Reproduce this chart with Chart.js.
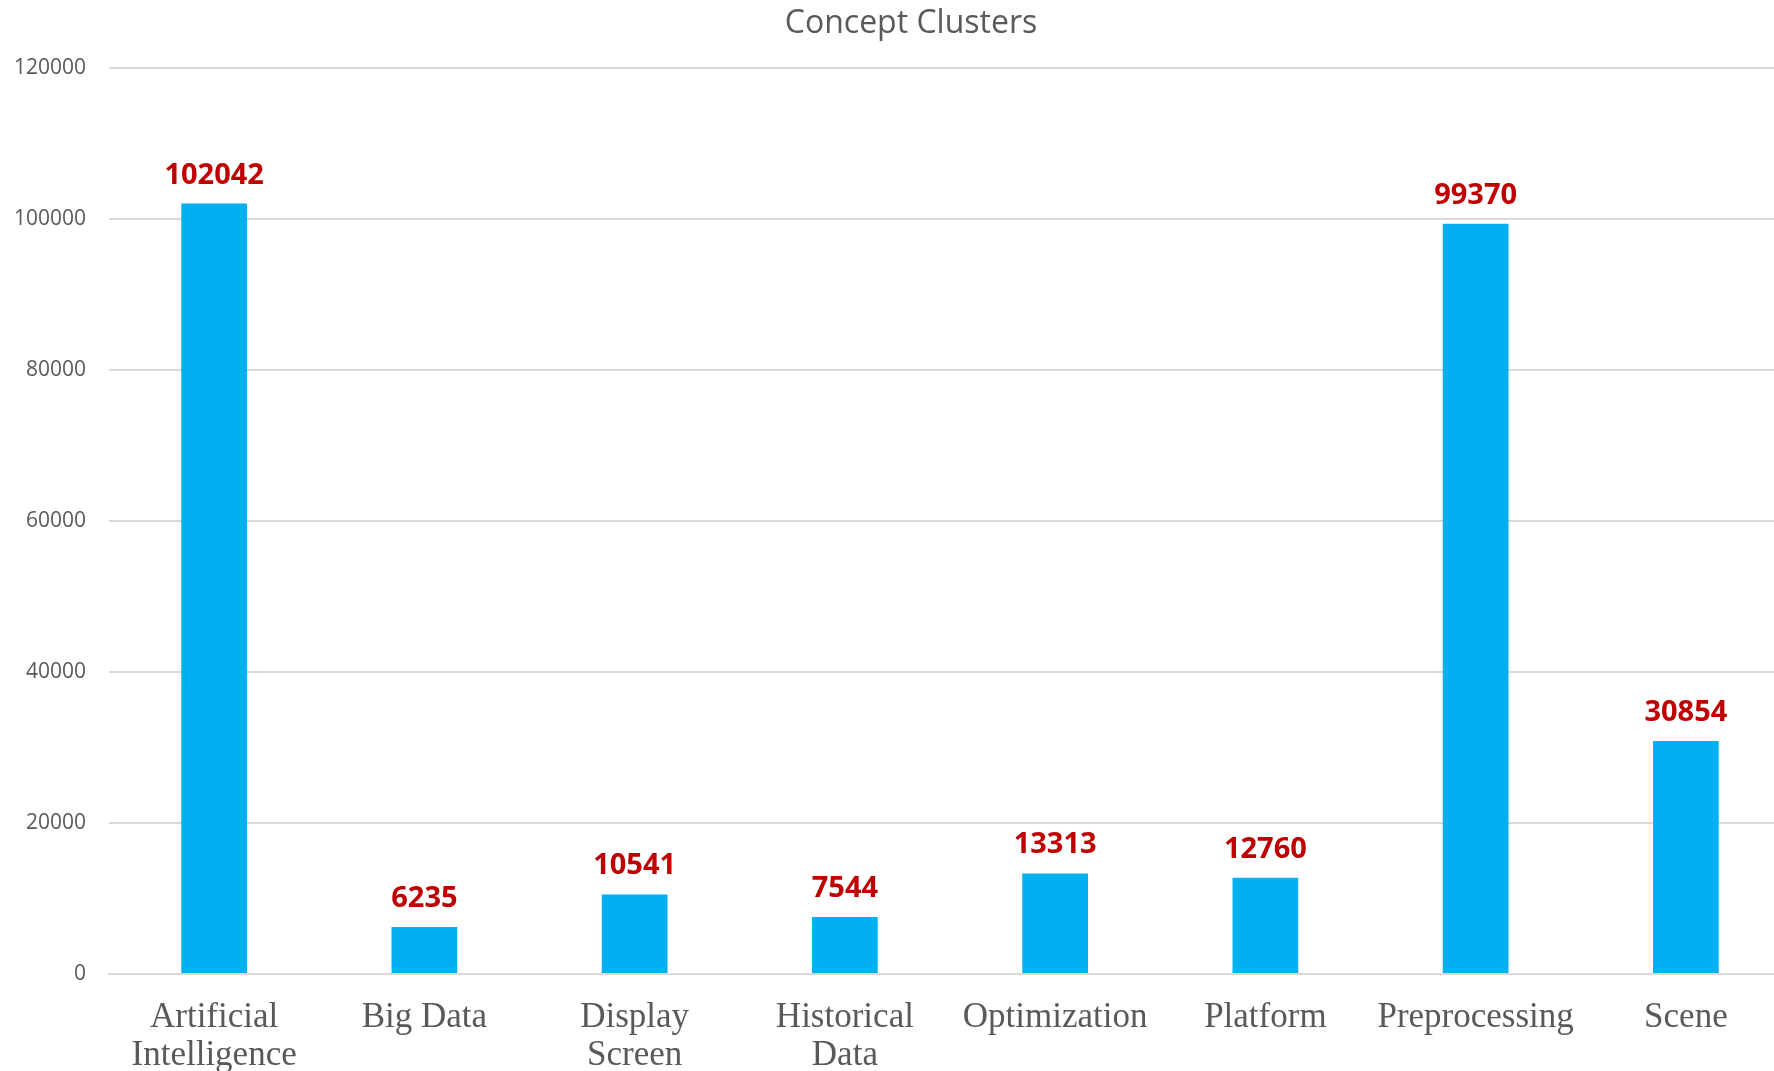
<!DOCTYPE html>
<html>
<head>
<meta charset="utf-8">
<title>Concept Clusters</title>
<script src="https://cdn.jsdelivr.net/npm/chart.js@4.4.1/dist/chart.umd.min.js"></script>
<style>
    html, body { margin: 0; padding: 0; background: #fff; overflow: hidden; }
    #frame { width: 1774px; height: 1071px; overflow: hidden; position: relative; }
    /* the original plot runs a little past the right edge of the picture */
    #wrap { width: 1791px; height: 1071px; position: absolute; left: 0; top: 0; }
</style>
</head>
<body>
<div id="frame"><div id="wrap"><canvas id="clusterChart"></canvas></div></div>
<script>
// Chart data
const chartTitle = 'Concept Clusters';
const categories = [
    ['Artificial', 'Intelligence'],
    'Big Data',
    ['Display', 'Screen'],
    ['Historical', 'Data'],
    'Optimization',
    'Platform',
    'Preprocessing',
    'Scene'
];
const conceptCounts = [102042, 6235, 10541, 7544, 13313, 12760, 99370, 30854];
const yTicks = [0, 20000, 40000, 60000, 80000, 100000, 120000];

const GREY_TEXT = '#595959';
const GRID = '#d9d9d9';

// title drawn by hand, the original sits a little right of the page centre
const titlePlugin = {
    id: 'offsetTitle',
    afterDraw(chart) {
        const c = chart.ctx;
        c.save();
        c.font = "32px 'Open Sans', sans-serif";
        c.fillStyle = GREY_TEXT;
        c.textAlign = 'center';
        c.textBaseline = 'middle';
        c.fillText(chartTitle, 911, 24);
        c.restore();
    }
};

// draws the red value above every bar
const valueLabels = {
    id: 'valueLabels',
    afterDatasetsDraw(chart) {
        const c = chart.ctx;
        const meta = chart.getDatasetMeta(0);
        c.save();
        c.font = "bold 29px 'Open Sans', sans-serif";
        c.fillStyle = '#C00000';
        c.textAlign = 'center';
        c.textBaseline = 'alphabetic';
        meta.data.forEach(function(bar, i) {
            c.fillText(String(conceptCounts[i]), bar.x, bar.y - 20);
        });
        c.restore();
    }
};

const ctx = document.getElementById('clusterChart').getContext('2d');

new Chart(ctx, {
    type: 'bar',
    data: {
        labels: categories,
        datasets: [{
            label: chartTitle,
            data: conceptCounts,
            backgroundColor: '#00B0F0',
            borderWidth: 0,
            categoryPercentage: 1,
            barPercentage: 0.3125
        }]
    },
    options: {
        responsive: true,
        maintainAspectRatio: false,
        animation: false,
        layout: {
            padding: { left: 15, right: 0, top: 68, bottom: 0 }
        },
        plugins: {
            legend: { display: false },
            tooltip: { enabled: false },
            title: { display: false }
        },
        scales: {
            x: {
                grid: { display: false, drawTicks: false },
                border: { display: true, color: GRID, width: 2 },
                afterFit: function(axis) {
                    axis.height = 97;
                    axis.paddingLeft = 0;
                    axis.paddingRight = 0;
                },
                ticks: {
                    color: GREY_TEXT,
                    padding: 25,
                    maxRotation: 0,
                    autoSkip: false,
                    font: { family: "'Liberation Serif', 'Times New Roman', serif", size: 35, lineHeight: 1.08 }
                }
            },
            y: {
                min: 0,
                max: 120000,
                afterBuildTicks: function(axis) {
                    axis.ticks = yTicks.map(v => ({ value: v }));
                },
                afterFit: function(axis) {
                    axis.width = 94;
                },
                grid: { color: GRID, lineWidth: 2, drawTicks: false },
                border: { display: false },
                ticks: {
                    color: GREY_TEXT,
                    padding: 23,
                    font: { family: "'Open Sans', sans-serif", size: 21 },
                    callback: function(value) {
                        return String(value);
                    }
                }
            }
        }
    },
    plugins: [valueLabels, titlePlugin]
});
</script>
</body>
</html>
